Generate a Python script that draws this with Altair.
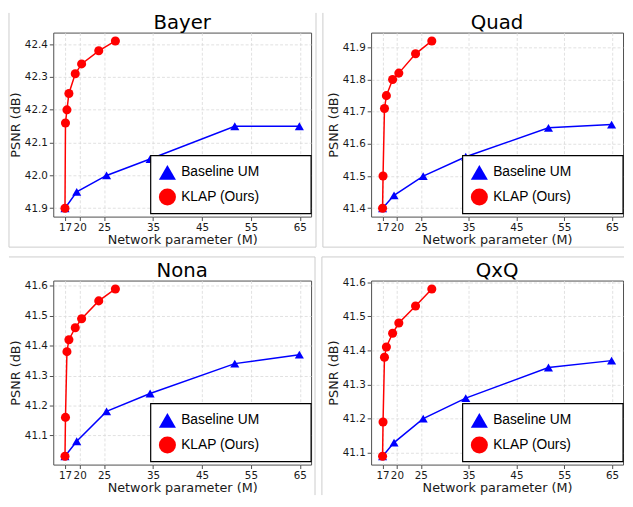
import altair as alt
import pandas as pd

# ---- data ----
series_names = ["Baseline UM", "KLAP (Ours)"]
x_base = [17.0, 19.4, 25.5, 34.4, 51.7, 64.9]
x_klap = [17.0, 17.1, 17.4, 17.8, 19.1, 20.4, 23.9, 27.3]

base_bayer = [41.90, 41.95, 42.00, 42.05, 42.15, 42.15]
klap_bayer = [41.90, 42.16, 42.20, 42.25, 42.31, 42.34, 42.38, 42.41]
base_quad = [41.40, 41.44, 41.50, 41.56, 41.65, 41.66]
klap_quad = [41.40, 41.50, 41.71, 41.75, 41.80, 41.82, 41.88, 41.92]
base_nona = [41.03, 41.08, 41.18, 41.24, 41.34, 41.37]
klap_nona = [41.03, 41.16, 41.38, 41.42, 41.46, 41.49, 41.55, 41.59]
base_qxq = [41.09, 41.13, 41.20, 41.26, 41.35, 41.37]
klap_qxq = [41.09, 41.19, 41.38, 41.41, 41.45, 41.48, 41.53, 41.58]

x_ticks = [17, 20, 25, 35, 45, 55, 65]
y_ticks_bayer = [41.9, 42.0, 42.1, 42.2, 42.3, 42.4]
y_ticks_quad = [41.4, 41.5, 41.6, 41.7, 41.8, 41.9]
y_ticks_nona = [41.1, 41.2, 41.3, 41.4, 41.5, 41.6]
y_ticks_qxq = [41.1, 41.2, 41.3, 41.4, 41.5, 41.6]

colors = ["#0000ff", "#ff0000"]
shapes = ["triangle-up", "circle"]

FRAME = "#cccccc"
one_row = pd.DataFrame({"k": [0]})


def vrule(x, y0, y1):
    return alt.Chart(one_row).mark_rule(color=FRAME, strokeWidth=1).encode(
        x=alt.value(x), y=alt.value(y0), y2=alt.value(y1))


def hrule(y, x0, x1):
    return alt.Chart(one_row).mark_rule(color=FRAME, strokeWidth=1).encode(
        y=alt.value(y), x=alt.value(x0), x2=alt.value(x1))


def panel(title, base, klap, yticks, w, h, frame):
    df = pd.DataFrame({
        "x": x_base + x_klap,
        "y": base + klap,
        "series": [series_names[0]] * len(base) + [series_names[1]] * len(klap),
        "idx": list(range(len(base))) + list(range(len(klap))),
    })
    ymin, ymax = df["y"].min(), df["y"].max()
    my = 0.05 * (ymax - ymin)
    xmin, xmax = df["x"].min(), df["x"].max()
    mx = 0.05 * (xmax - xmin)

    xenc = alt.X("x:Q",
                 scale=alt.Scale(domain=[xmin - mx, xmax + mx], nice=False, zero=False),
                 axis=alt.Axis(values=x_ticks, title="Network parameter (M)",
                               labelOverlap=False, labelFlush=False,
                               labelPadding=2, titlePadding=1))
    yenc = alt.Y("y:Q",
                 scale=alt.Scale(domain=[ymin - my, ymax + my], nice=False, zero=False),
                 axis=alt.Axis(values=yticks, format=".1f", title="PSNR (dB)",
                               labelOverlap=False, labelFlush=False,
                               labelPadding=2, titlePadding=2))
    cscale = alt.Scale(domain=series_names, range=colors)
    sscale = alt.Scale(domain=series_names, range=shapes)
    leg = dict(title=None, orient="none", legendX=w - 163, legendY=h - 62)

    lines = alt.Chart(df).mark_line(strokeWidth=1.5).encode(
        x=xenc, y=yenc,
        color=alt.Color("series:N", scale=cscale, legend=alt.Legend(**leg)),
        detail="series:N",
        order="idx:Q",
    )
    pts = alt.Chart(df).mark_point(filled=True, size=85, opacity=1).encode(
        x=xenc, y=yenc,
        color=alt.Color("series:N", scale=cscale, legend=alt.Legend(**leg)),
        shape=alt.Shape("series:N", scale=sscale, legend=alt.Legend(**leg)),
    )
    # legend box (white panel with black border, as in the matplotlib legend)
    legbox = alt.Chart(one_row).mark_rect(fill="white", stroke="black", strokeWidth=1.2).encode(
        x=alt.value(w - 163), x2=alt.value(w), y=alt.value(h - 62), y2=alt.value(h - 3))
    ttl = alt.Chart(one_row).mark_text(
        text=title, font="DejaVu Sans", fontSize=20, color="black",
        align="center", baseline="alphabetic",
    ).encode(x=alt.value(w / 2), y=alt.value(-4))
    return alt.layer(*frame, lines, pts, legbox, ttl).properties(width=w, height=h)


W1, W2, H = 262, 256, 187

frame_tl = [vrule(-45, -20, H + 31), vrule(W1 + 5, -20, H + 31), hrule(H + 31, -45, W1 + 5)]
frame_tr = [vrule(-49, -20, H + 31), hrule(H + 31, -49, W2 + 1)]
frame_bl = [hrule(-24, -45, W1 + 4), vrule(W1 + 4, -24, H + 31)]
frame_br = [hrule(-24, -50, W2 + 1), vrule(-50, -24, H + 31)]

top = alt.hconcat(
    panel("Bayer", base_bayer, klap_bayer, y_ticks_bayer, W1, H, frame_tl),
    panel("Quad", base_quad, klap_quad, y_ticks_quad, W2, H, frame_tr),
    spacing=5,
).resolve_scale(x="independent", y="independent").resolve_legend(color="independent", shape="independent")
bottom = alt.hconcat(
    panel("Nona", base_nona, klap_nona, y_ticks_nona, W1, H, frame_bl),
    panel("QxQ", base_qxq, klap_qxq, y_ticks_qxq, W2, H, frame_br),
    spacing=5,
).resolve_scale(x="independent", y="independent").resolve_legend(color="independent", shape="independent")

chart = alt.vconcat(top, bottom, spacing=8).resolve_scale(
    x="independent", y="independent"
).resolve_legend(color="independent", shape="independent").properties(
    padding={"left": 0, "top": 0, "right": 0, "bottom": 0}
).configure_view(
    stroke="#4d4d4d", strokeWidth=1
).configure_axis(
    labelFont="DejaVu Sans", labelFontSize=10.5, labelColor="#1a1a1a",
    titleFont="DejaVu Sans", titleFontSize=13, titleFontWeight="normal", titleColor="#1a1a1a",
    gridColor="#d9d9d9", gridDash=[3, 2], gridWidth=0.8,
    tickColor="#4d4d4d", tickSize=4, domain=False,
).configure_legend(
    labelFont="Liberation Sans", labelFontSize=14, labelColor="black",
    symbolSize=300, symbolStrokeWidth=0,
    padding=8, rowPadding=8, labelOffset=5,
)

chart.save("out.html", embed_options={"renderer": "svg", "actions": False})
